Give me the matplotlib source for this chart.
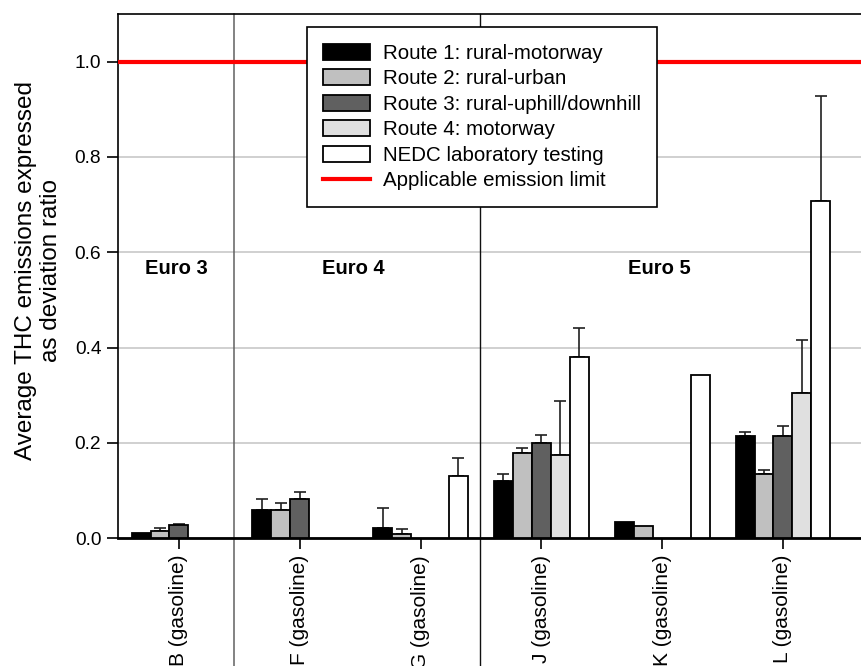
import numpy as np
import matplotlib
matplotlib.use("Agg")
import matplotlib.pyplot as plt
from matplotlib.patches import Patch
from matplotlib.lines import Line2D

plt.rcParams['font.family'] = ['Liberation Sans', 'DejaVu Sans']

#Vehicles and test routes
vehicles = ['B (gasoline)', 'F (gasoline)', 'G (gasoline)',
            'J (gasoline)', 'K (gasoline)', 'L (gasoline)']
series = ['Route 1: rural-motorway', 'Route 2: rural-urban',
          'Route 3: rural-uphill/downhill', 'Route 4: motorway',
          'NEDC laboratory testing']

#Average THC deviation ratio per route (nan = not tested)
route1 = [0.0105, 0.059, 0.022, 0.120, 0.034, 0.215]
route2 = [0.015, 0.059, 0.009, 0.179, 0.026, 0.134]
route3 = [0.029, 0.083, np.nan, 0.199, np.nan, 0.215]
route4 = [np.nan, np.nan, np.nan, 0.174, np.nan, 0.304]
nedc = [np.nan, np.nan, 0.131, 0.380, 0.342, 0.708]

#Upper error bar lengths
route1_err = [0.0, 0.024, 0.042, 0.015, 0.0, 0.008]
route2_err = [0.007, 0.015, 0.010, 0.010, 0.0, 0.009]
route3_err = [0.002, 0.015, 0.0, 0.017, 0.0, 0.021]
route4_err = [0.0, 0.0, 0.0, 0.115, 0.0, 0.113]
nedc_err = [0.0, 0.0, 0.038, 0.062, 0.0, 0.220]

emission_limit = 1.0
euro_labels = ['Euro 3', 'Euro 4', 'Euro 5']
euro_label_x = [-0.02, 1.44, 3.98]
euro_bounds = [0.455, 2.49]

values = [route1, route2, route3, route4, nedc]
errors = [route1_err, route2_err, route3_err, route4_err, nedc_err]
colors = ['#000000', '#c0c0c0', '#606060', '#e0e0e0', '#ffffff']

fig = plt.figure(figsize=(8.61, 6.66), dpi=100)
ax = fig.add_axes([0.137, 0.1917, 0.863, 0.788])

x = np.arange(len(vehicles))
width = 0.157

for i, (vals, errs, col) in enumerate(zip(values, errors, colors)):
    pos = x + (i - 2) * width
    vals = np.array(vals, dtype=float)
    errs = np.array(errs, dtype=float)
    ax.bar(pos, vals, width, color=col, edgecolor='black', linewidth=1.3, zorder=3)
    has_err = ~np.isnan(vals) & (errs > 0)
    ax.errorbar(pos[has_err], vals[has_err],
                yerr=[np.zeros(has_err.sum()), errs[has_err]],
                fmt='none', ecolor='#202020', elinewidth=1.2,
                capsize=4, capthick=1.2, zorder=2)

#Emission limit
ax.axhline(emission_limit, color='#ff0000', linewidth=3, zorder=4)

#Euro class separators (extend below the axis)
ax.axvline(euro_bounds[0], ymin=-0.25, ymax=1, color='#606060', linewidth=1.1,
           clip_on=False, zorder=1)
ax.axvline(euro_bounds[1], ymin=-0.25, ymax=1, color='#101010', linewidth=1.0,
           clip_on=False, zorder=1)

for lbl, lx in zip(euro_labels, euro_label_x):
    ax.text(lx, 0.567, lbl, ha='center', va='center', fontsize=14.5,
            fontweight='bold')

ax.set_xlim(-0.505, 5.646)
ax.set_ylim(0, 1.101)
ax.set_yticks([0.0, 0.2, 0.4, 0.6, 0.8, 1.0])
ax.set_yticklabels(['0.0', '0.2', '0.4', '0.6', '0.8', '1.0'], fontsize=13.8)
ax.set_xticks(x)
ax.set_xticklabels(vehicles, rotation=90, fontsize=15)
ax.tick_params(axis='both', direction='out', length=8, width=1.2, pad=4)
ax.yaxis.grid(True, color='#c8c8c8', linewidth=1.2, zorder=0)
ax.set_axisbelow(True)
ax.get_yticklines()[10].set_color('#ff0000')

ax.spines['right'].set_visible(False)
ax.spines['top'].set_linewidth(1.2)
ax.spines['left'].set_linewidth(1.2)
ax.spines['bottom'].set_linewidth(2)

ax.set_ylabel('Average THC emissions expressed\nas deviation ratio', fontsize=17.5)
ax.yaxis.set_label_coords(-0.075, 0.51)

handles = [Patch(facecolor=c, edgecolor='black', linewidth=1.3) for c in colors]
handles.append(Line2D([0], [0], color='#ff0000', linewidth=3))
leg = ax.legend(handles, series + ['Applicable emission limit'],
                loc='upper left', bbox_to_anchor=(0.254, 0.974), fontsize=14.8,
                frameon=True, fancybox=False, framealpha=1, edgecolor='black',
                handlelength=2.3, handleheight=0.85, handletextpad=0.6,
                labelspacing=0.3, borderpad=0.8, borderaxespad=0)
leg.get_frame().set_linewidth(1.2)
leg.set_zorder(10)

fig.savefig('out.png', dpi=100)
